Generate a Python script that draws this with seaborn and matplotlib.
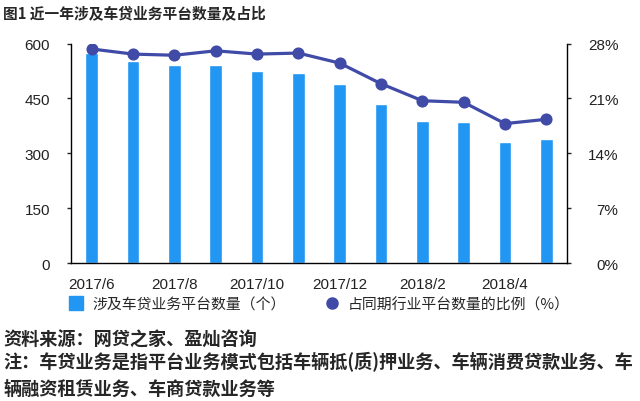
import numpy as np
import pandas as pd
import matplotlib
matplotlib.use("Agg")
import matplotlib.pyplot as plt
from matplotlib.lines import Line2D
import seaborn as sns

sns.set_style("white")
plt.rcParams['font.family'] = ['Liberation Sans', 'Noto Sans CJK SC', 'DejaVu Sans']

# data
months = ["2017/6", "2017/7", "2017/8", "2017/9", "2017/10", "2017/11",
          "2017/12", "2018/1", "2018/2", "2018/3", "2018/4", "2018/5"]
platforms = [575, 553, 542, 540, 524, 520, 490, 434, 388, 385, 330, 338]
share_pct = [27.3, 26.65, 26.5, 27.07, 26.65, 26.78, 25.5, 22.87, 20.7, 20.5, 17.78, 18.33]

bar_label = "涉及车贷业务平台数量（个）"
line_label = "占同期行业平台数量的比例（%）"
title = "图1 近一年涉及车贷业务平台数量及占比"
source = "资料来源：网贷之家、盈灿咨询"
note1 = "注：车贷业务是指平台业务模式包括车辆抵(质)押业务、车辆消费贷款业务、车"
note2 = "辆融资租赁业务、车商贷款业务等"

df = pd.DataFrame({"month": months, "count": platforms, "share": share_pct})

BAR = "#2196F3"
LINE = "#3F4BA6"
CJK = ['Noto Sans CJK SC', 'DejaVu Sans']

fig = plt.figure(figsize=(6.4, 4.02), dpi=100)
ax = fig.add_axes([71 / 640, 1 - 264 / 402, 496 / 640, 219.5 / 402])

sns.barplot(data=df, x="month", y="count", color=BAR, width=0.3,
            saturation=1, ax=ax)
ax.set_ylim(0, 600)
ax.set_yticks([0, 150, 300, 450, 600])
ax.set_xlabel("")
ax.set_ylabel("")

ax2 = ax.twinx()
sns.pointplot(data=df, x="month", y="share", color=LINE, markers="o",
              markersize=7, linewidth=2.3, ax=ax2)
ax2.set_ylim(0, 28)
ax2.set_yticks([0, 7, 14, 21, 28])
ax2.set_yticklabels([f"{v}%" for v in [0, 7, 14, 21, 28]])
ax2.set_ylabel("")

ax.set_xlim(-0.5, 11.5)
ax.set_xticks(range(0, 12, 2))
ax.set_xticklabels(months[::2])

for a in (ax, ax2):
    for s in a.spines.values():
        s.set_visible(False)
    a.grid(False)
ax.spines["left"].set_visible(True)
ax.spines["bottom"].set_visible(True)
ax2.spines["right"].set_visible(True)
for s in (ax.spines["left"], ax.spines["bottom"], ax2.spines["right"]):
    s.set_color("black")
    s.set_linewidth(1)

ax.tick_params(axis="y", left=True, length=3, width=1, pad=12,
               labelsize=11, labelcolor="#222222")
ax.tick_params(axis="x", bottom=False, length=0, pad=10,
               labelsize=11, labelcolor="#222222")
ax2.tick_params(axis="y", right=True, length=3, width=1, pad=34,
                labelsize=11, labelcolor="#222222")
for t in ax2.get_yticklabels():
    t.set_horizontalalignment("right")

handles = [
    Line2D([], [], marker="s", color=BAR, linestyle="none", markersize=10),
    Line2D([], [], marker="o", color=LINE, linestyle="none", markersize=8),
]
fig.legend(handles, [bar_label, line_label], loc="center left",
           bbox_to_anchor=(55 / 640, 1 - 305 / 402), ncol=2, frameon=False,
           handlelength=1, handletextpad=0.6, columnspacing=2.6,
           prop={"family": CJK, "size": 10.7})

fig.text(3 / 640, 1 - 13 / 402, title, ha="left", va="center",
         fontsize=10.6, fontweight="bold", family=CJK)
fig.text(3 / 640, 1 - 340 / 402, source, ha="left", va="center",
         fontsize=13.1, fontweight="bold", family=CJK)
fig.text(3 / 640, 1 - 362.5 / 402, note1, ha="left", va="center",
         fontsize=13.1, fontweight="bold", family=CJK)
fig.text(3 / 640, 1 - 389.5 / 402, note2, ha="left", va="center",
         fontsize=13.1, fontweight="bold", family=CJK)

fig.savefig("out.png", dpi=100)
